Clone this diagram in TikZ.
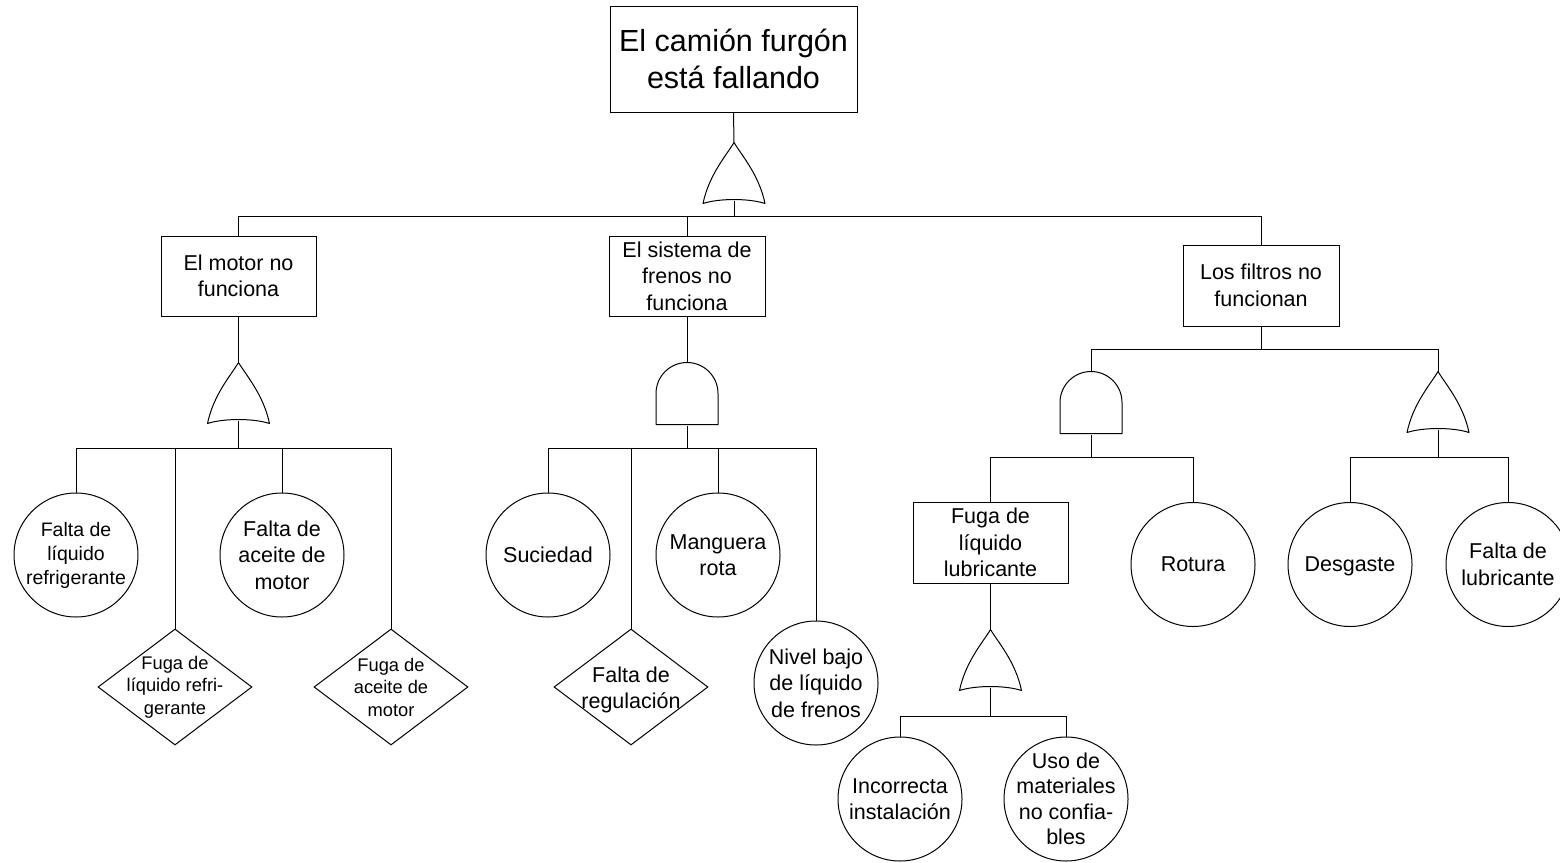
\documentclass[tikz,border=0pt]{standalone}
\usepackage{fontspec}
\setmainfont{Liberation Sans}
\usetikzlibrary{shapes.geometric}

% fault-tree gate outlines, drawn from the gate node's top point
\newcommand{\orshape}[1]{%
  \begin{scope}[shift={(#1.north)}]
    \draw[gateline] (0,0) .. controls (7,12) and (25,32) .. (31,61)
      .. controls (15,55.7) and (-15,55.7) .. (-31,61)
      .. controls (-25,32) and (-7,12) .. (0,0) -- cycle;
  \end{scope}}
\newcommand{\andshape}[1]{%
  \begin{scope}[shift={(#1.north)}]
    \draw[gateline] (-31,62) -- (-31,31) arc[start angle=180,end angle=0,radius=31pt]
      -- (31,62) -- cycle;
  \end{scope}}

\tikzset{
  gateline/.style={line join=round},
  txt/.style={align=center, inner sep=0pt, font=\fontsize{21.5}{26.5}\selectfont},
  smalltxt/.style={align=center, inner sep=0pt, font=\fontsize{18.3}{22.5}\selectfont},
  midtxt/.style={align=center, inner sep=0pt, font=\fontsize{19.5}{24}\selectfont},
  eventbox/.style={rectangle, draw, inner sep=0pt, minimum width=155pt, minimum height=80pt, txt},
  basic/.style={circle, draw, inner sep=0pt, minimum size=124pt},
  undev/.style={diamond, draw, inner sep=0pt, minimum width=154pt, minimum height=116pt},
  gate/.style={rectangle, inner sep=0pt, minimum width=62pt, minimum height=#1},
  gate/.default=61pt,
}

\begin{document}
\begin{tikzpicture}[x=1pt, y=-1pt, line width=1pt]
\path[use as bounding box] (0,0) rectangle (1560,862);
\clip (0,0) rectangle (1560,862);

% ---- top event ----
\node[rectangle, draw, inner sep=0pt, minimum width=247pt, minimum height=106pt,
      align=center, font=\fontsize{30.5}{36.5}\selectfont] (top) at (733.5,59)
      {El camión furgón\\está fallando};
\node[gate] (g0) at (734,173.5) {};
\orshape{g0}
\coordinate (b0) at (734,216.5);

% ---- second level ----
\node[eventbox] (motor) at (238.5,276) {El motor no\\funciona};
\node[eventbox, minimum width=156pt] (frenos) at (687,276) {El sistema de\\frenos no\\funciona};
\node[eventbox, minimum width=156pt, minimum height=81pt] (filtros) at (1261,285.5) {Los filtros no\\funcionan};

% ---- engine branch ----
\node[gate] (g1) at (238.5,393.5) {};
\orshape{g1}
\coordinate (b1) at (238.5,448.5);
\node[basic] (c1) at (76,555) {};
\node[midtxt] (c1t) at (c1) {Falta de\\líquido\\refrigerante};
\node[undev] (d1) at (175,687) {};
\node[smalltxt] (d1t) at (d1) {Fuga de\\líquido refri-\\gerante};
\node[basic] (c2) at (282,555) {};
\node[txt] (c2t) at (c2) {Falta de\\aceite de\\motor};
\node[undev] (d2) at (391,687) {};
\node[smalltxt] (d2t) at (d2) {Fuga de\\aceite de\\motor};

% ---- brake branch ----
\node[gate=62pt] (g2) at (687,394) {};
\andshape{g2}
\coordinate (b2) at (687,448.5);
\node[basic] (c3) at (548,555) {};
\node[txt] (c3t) at (c3) {Suciedad};
\node[undev] (d3) at (631,687) {};
\node[txt] (d3t) at ([yshift=-3pt]d3.center) {Falta de\\regulación};
\node[basic] (c4) at (718,555) {};
\node[txt] (c4t) at (c4) {Manguera\\rota};
\node[basic] (c5) at (816,683) {};
\node[txt] (c5t) at (c5) {Nivel bajo\\de líquido\\de frenos};

% ---- filter branch ----
\coordinate (b3) at (1261,349);
\node[gate=62pt] (g3) at (1091,403) {};
\andshape{g3}
\node[gate] (g4) at (1438,402.5) {};
\orshape{g4}
\coordinate (b4) at (1091,457);
\coordinate (b5) at (1438,457);
\node[eventbox, minimum height=81pt] (fuga) at (990.5,542.5) {Fuga de\\líquido\\lubricante};
\node[basic] (c6) at (1193,564.5) {};
\node[txt] (c6t) at (c6) {Rotura};
\node[basic] (c7) at (1350,564.5) {};
\node[txt, text depth=0pt] (c7t) at (c7) {Desgaste};
\node[basic] (c8) at (1508,564.5) {};
\node[txt] (c8t) at (c8) {Falta de\\lubricante};
\node[gate] (g5) at (990.5,660.5) {};
\orshape{g5}
\coordinate (b6) at (990.5,716);
\node[basic] (c9) at (900,799) {};
\node[txt] (c9t) at (c9) {Incorrecta\\instalación};
\node[basic] (c10) at (1066,799) {};
\node[txt, font=\fontsize{21.5}{25.5}\selectfont] (c10t) at (c10) {Uso de\\materiales\\no confia-\\bles};

% ---- connectors ----
\draw (top.south) -- (g0.north);
\draw ([yshift=4pt]g0.south) -- (b0);
\draw (b0) -| (motor.north);
\draw (b0) -| (frenos.north);
\draw (b0) -| (filtros.north);

\draw (motor.south) -- (g1.north);
\draw ([yshift=4pt]g1.south) -- (b1);
\foreach \n in {c1,d1,c2,d2} \draw (b1) -| (\n.north);

\draw (frenos.south) -- (g2.north);
\draw (g2.south) -- (b2);
\foreach \n in {c3,d3,c4,c5} \draw (b2) -| (\n.north);

\draw (filtros.south) -- (b3);
\draw (b3) -| (g3.north);
\draw (b3) -| (g4.north);
\draw (g3.south) -- (b4);
\draw (b4) -| (fuga.north);
\draw (b4) -| (c6.north);
\draw ([yshift=4pt]g4.south) -- (b5);
\draw (b5) -| (c7.north);
\draw (b5) -| (c8.north);

\draw (fuga.south) -- (g5.north);
\draw ([yshift=4pt]g5.south) -- (b6);
\draw (b6) -| (c9.north);
\draw (b6) -| (c10.north);
\end{tikzpicture}
\end{document}
